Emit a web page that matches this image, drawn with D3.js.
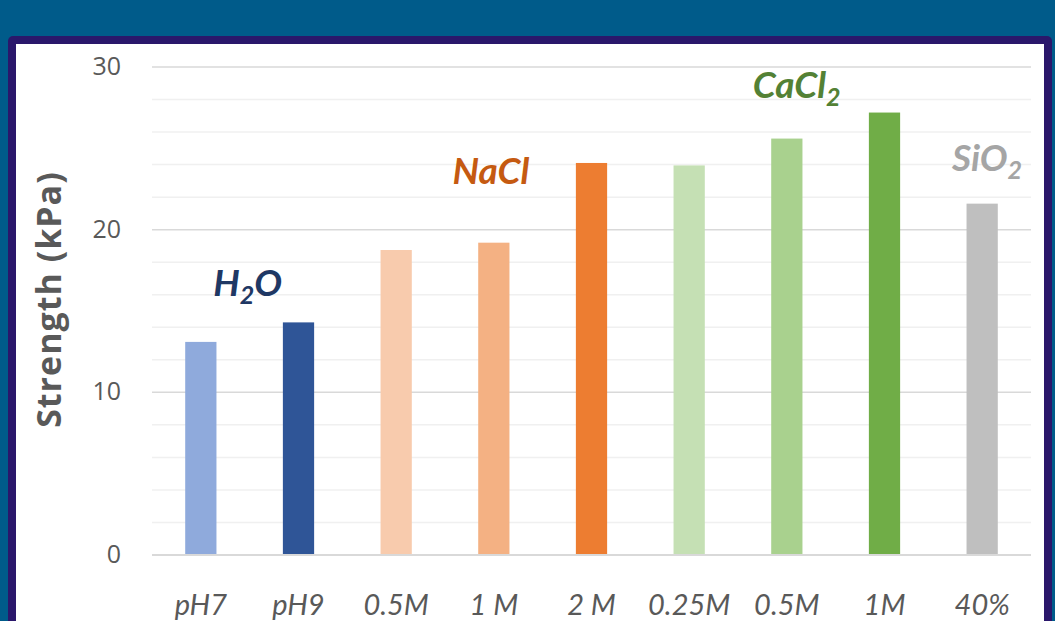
<!DOCTYPE html>
<html>
<head>
<meta charset="utf-8">
<script src="https://cdn.jsdelivr.net/npm/d3@7"></script>
<style>
body{margin:0;background:#005b8a;overflow:hidden;}
svg{display:block;font-family:Lato,"Open Sans",sans-serif;}
</style>
</head>
<body>
<script>
var categories = ["pH7","pH9","0.5M","1 M","2 M","0.25M","0.5M ","1M","40%"];
var values = [13.1, 14.3, 18.75, 19.2, 24.1, 23.95, 25.6, 27.2, 21.6];
var colors = ["#8faadc","#2f5597","#f8cbad","#f4b183","#ed7d31","#c5e0b4","#a9d18e","#70ad47","#bfbfbf"];
var groups = [
  {name:"H", sub:"2", tail:"O", at:0.48, val:15.9, color:"#1f3864"},
  {name:"NaCl", sub:"", tail:"", at:2.97, val:22.8, color:"#c55a11"},
  {name:"CaCl", sub:"2", tail:"", at:6.1, val:28.1, color:"#538135"},
  {name:"SiO", sub:"2", tail:"", at:8.05, val:23.6, color:"#a5a5a5"}
];

var W = 1055, H = 621;
var margin = {left:152, right:24, top:67, bottom:66};

var svg = d3.select("body").append("svg").attr("width", W).attr("height", H);

// frame
svg.append("rect").attr("x",8).attr("y",36).attr("width",1044).attr("height",620)
  .attr("rx",5).attr("fill","#2a176b");
svg.append("rect").attr("x",16).attr("y",44).attr("width",1028).attr("height",620)
  .attr("fill","#ffffff");

var x = d3.scaleBand().domain(d3.range(categories.length))
  .range([margin.left, W - margin.right]).paddingInner(0.68).paddingOuter(0.34);
var y = d3.scaleLinear().domain([0,30]).range([H - margin.bottom, margin.top]);

// minor grid
svg.append("g").selectAll("line").data(d3.range(2,30,2).filter(function(d){return d%10!==0;}))
  .enter().append("line")
  .attr("x1", margin.left).attr("x2", W - margin.right)
  .attr("y1", function(d){return y(d);}).attr("y2", function(d){return y(d);})
  .attr("stroke","#f0f0f0").attr("stroke-width",1.5);

// major grid
svg.append("g").selectAll("line").data([10,20,30])
  .enter().append("line")
  .attr("x1", margin.left).attr("x2", W - margin.right)
  .attr("y1", function(d){return y(d);}).attr("y2", function(d){return y(d);})
  .attr("stroke","#d9d9d9").attr("stroke-width",1.5);

// bars
svg.append("g").selectAll("rect").data(values).enter().append("rect")
  .attr("x", function(d,i){return x(i);})
  .attr("width", x.bandwidth())
  .attr("y", function(d){return y(d);})
  .attr("height", function(d){return y(0) - y(d);})
  .attr("fill", function(d,i){return colors[i];});

// y axis
var yAxis = svg.append("g").attr("transform","translate(121,0)")
  .call(d3.axisLeft(y).tickValues([0,10,20,30]).tickSize(0).tickPadding(0));
yAxis.select(".domain").remove();
yAxis.selectAll("text").attr("fill","#595959").style("font-size","25px")
  .style("font-family","'Open Sans',Lato,sans-serif").attr("dy","0.3em");

// baseline
svg.append("line").attr("x1", margin.left).attr("x2", W - margin.right)
  .attr("y1", y(0)).attr("y2", y(0)).attr("stroke","#d9d9d9").attr("stroke-width",2);

// x axis
var xAxis = svg.append("g").attr("transform","translate(0,"+y(0)+")")
  .call(d3.axisBottom(x).tickFormat(function(i){return categories[i].trim();}).tickSize(0).tickPadding(39));
xAxis.select(".domain").remove();
xAxis.selectAll("text").attr("fill","#595959").style("font-size","29px")
  .style("font-style","italic").style("font-family","Lato,'Open Sans',sans-serif");

// y label
svg.append("text").attr("transform","translate(61,"+y(15.7)+") rotate(-90)")
  .attr("text-anchor","middle").attr("fill","#595959")
  .style("font-size","34px").style("font-weight","bold").style("letter-spacing","1px")
  .style("font-family","'Open Sans',Lato,sans-serif")
  .text("Strength (kPa)");

// group labels
var gl = svg.append("g").selectAll("text").data(groups).enter().append("text")
  .attr("x", function(d){return x(0) + x.bandwidth()/2 + d.at * x.step();})
  .attr("y", function(d){return y(d.val);})
  .attr("text-anchor","middle")
  .attr("fill", function(d){return d.color;})
  .style("font-size","37px").style("font-weight","bold").style("font-style","italic");
gl.each(function(d){
  var t = d3.select(this);
  t.append("tspan").text(d.name);
  if (d.sub) t.append("tspan").attr("dy",8).style("font-size","25px").text(d.sub);
  if (d.tail) t.append("tspan").attr("dy",-8).text(d.tail);
});
</script>
</body>
</html>
